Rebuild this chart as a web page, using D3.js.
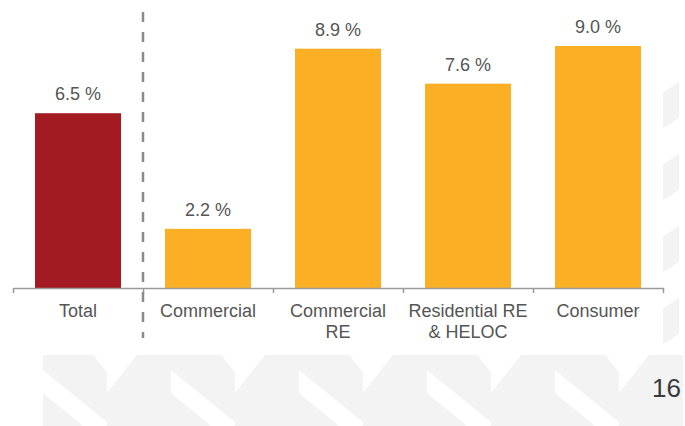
<!DOCTYPE html>
<html>
<head>
<meta charset="utf-8">
<script src="https://cdn.jsdelivr.net/npm/d3@7"></script>
<style>
  html, body { margin: 0; padding: 0; background: #fff; }
  svg { display: block; }
  text { font-family: "Liberation Sans", Arial, sans-serif; }
</style>
</head>
<body>
<svg id="chart" width="685" height="426"></svg>
<script>
// ---- data ----
const categories = ["Total", "Commercial", "Commercial RE", "Residential RE & HELOC", "Consumer"];
const labelLines = [["Total"], ["Commercial"], ["Commercial", "RE"], ["Residential RE", "& HELOC"], ["Consumer"]];
const values = [6.5, 2.2, 8.9, 7.6, 9.0];
const valueLabels = ["6.5 %", "2.2 %", "8.9 %", "7.6 %", "9.0 %"];
const barColors = ["#A31A22", "#FBAF25", "#FBAF25", "#FBAF25", "#FBAF25"];
const pageNumber = "16";

// ---- layout ----
const W = 685, H = 426;
const svg = d3.select("#chart");
const baseY = 288;

// background decoration (faint chevron pattern)
const deco = svg.append("g").attr("fill", "#f3f3f3");
const cellW = 128, cellStart = 43, patTop = 355;
for (let i = 0; i < 5; i++) {
  const x0 = cellStart + i * cellW;
  const polys = [
    [[x0, patTop], [x0 + 50, patTop], [x0 + 64, patTop + 17], [x0 + 64, patTop + 67], [x0, patTop + 15]],
    [[x0, patTop + 38], [x0 + 40, H], [x0, H]],
    [[x0 + 64, patTop + 38], [x0 + 94, patTop], [x0 + 128, patTop], [x0 + 128, H], [x0 + 64, H]]
  ];
  polys.forEach(p => deco.append("polygon").attr("points", p.map(d => d.join(",")).join(" ")));
}
for (let j = 0; j < 4; j++) {
  const y0 = 82 + j * 72;
  deco.append("polygon").attr("points",
    [[663, y0 + 10], [679, y0], [679, y0 + 36], [663, y0 + 46]].map(d => d.join(",")).join(" "));
}

const x = d3.scaleBand().domain(categories).range([13, 663]).paddingInner(0.3385).paddingOuter(0.3385 / 2);
const y = d3.scaleLinear().domain([0, 9.0]).range([baseY, 46]);
const step = x.step();
const gapHalf = step * x.paddingInner() / 2;

// bars
svg.append("g").selectAll("rect").data(categories).join("rect")
  .attr("x", d => x(d))
  .attr("y", (d, i) => y(values[i]))
  .attr("width", x.bandwidth())
  .attr("height", (d, i) => y(0) - y(values[i]))
  .attr("fill", (d, i) => barColors[i]);

// value labels
svg.append("g").selectAll("text").data(categories).join("text")
  .attr("x", d => x(d) + x.bandwidth() / 2)
  .attr("y", (d, i) => y(values[i]) - 13)
  .attr("text-anchor", "middle")
  .attr("font-size", "18px")
  .attr("fill", "#555")
  .text((d, i) => valueLabels[i]);

// axis line with ticks at band boundaries
const bounds = categories.map(d => x(d) - gapHalf).concat([x(categories[categories.length - 1]) + x.bandwidth() + gapHalf]);
const edge = d3.scaleLinear().domain([0, categories.length]).range([bounds[0], bounds[bounds.length - 1]]);
const axis = d3.axisBottom(edge).tickValues(d3.range(categories.length + 1)).tickSize(5).tickSizeOuter(0).tickFormat("");
const gAxis = svg.append("g").attr("transform", `translate(0,${baseY})`).call(axis);
gAxis.select(".domain").attr("stroke", "#9a9a9a").attr("stroke-width", 1.5);
gAxis.selectAll(".tick line").attr("stroke", "#9a9a9a").attr("stroke-width", 1.5);

// category labels
const catG = svg.append("g").selectAll("text").data(categories).join("text")
  .attr("x", d => x(d) + x.bandwidth() / 2)
  .attr("y", baseY + 29)
  .attr("text-anchor", "middle")
  .attr("font-size", "18px")
  .attr("fill", "#555");
catG.each(function(d, i) {
  const t = d3.select(this);
  labelLines[i].forEach((ln, k) => {
    t.append("tspan").attr("x", x(d) + x.bandwidth() / 2).attr("dy", k === 0 ? 0 : 21).text(ln);
  });
});

// dashed separator between Total and segments
svg.append("line")
  .attr("x1", bounds[1]).attr("x2", bounds[1])
  .attr("y1", 12).attr("y2", 338)
  .attr("stroke", "#8a8a8a")
  .attr("stroke-width", 2.5)
  .attr("stroke-dasharray", "10,10");

// page number
svg.append("text")
  .attr("x", 681).attr("y", 397)
  .attr("text-anchor", "end")
  .attr("font-size", "26px")
  .attr("fill", "#3a3a3a")
  .text(pageNumber);
</script>
</body>
</html>
